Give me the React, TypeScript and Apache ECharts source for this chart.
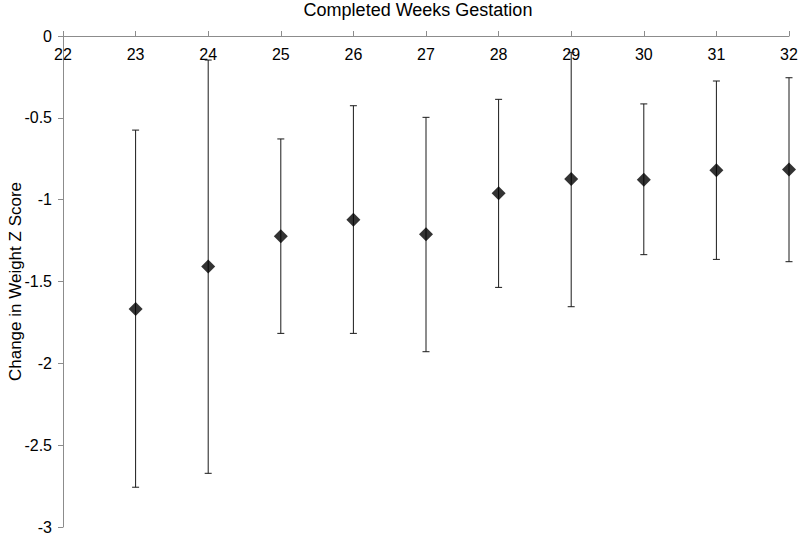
import React, { useEffect, useRef } from "react";
import * as echarts from "echarts";

const weeks = [23, 24, 25, 26, 27, 28, 29, 30, 31, 32];
const means = [-1.668, -1.409, -1.224, -1.122, -1.211, -0.961, -0.874, -0.878, -0.821, -0.815];
const upper = [-0.575, -0.147, -0.629, -0.426, -0.497, -0.387, -0.1, -0.415, -0.275, -0.255];
const lower = [-2.757, -2.672, -1.817, -1.817, -1.929, -1.536, -1.654, -1.336, -1.365, -1.379];

const xTitle = "Completed Weeks Gestation";
const yTitle = "Change in Weight Z Score";

const FONT = "'Liberation Sans', Arial, sans-serif";

export default function App() {
  const ref = useRef<HTMLDivElement>(null);
  useEffect(() => {
    if (!ref.current) return;
    const chart = echarts.init(ref.current, undefined, { renderer: "svg" });
    const errData = weeks.map((w, i) => [w, lower[i], upper[i]]);
    const pts = weeks.map((w, i) => [w, means[i]]);
    chart.setOption({
      animation: false,
      textStyle: { fontFamily: FONT },
      grid: { left: 63, right: 11, top: 36, bottom: 8, containLabel: false, outerBoundsMode: "none" },
      graphic: [
        {
          type: "text",
          x: 418,
          y: 10,
          style: {
            text: xTitle,
            align: "center",
            verticalAlign: "middle",
            textAlign: "center",
            textVerticalAlign: "middle",
            fontSize: 18,
            fontFamily: FONT,
            fill: "#000",
          },
        },
      ],
      xAxis: {
        type: "value",
        position: "top",
        min: 22,
        max: 32,
        interval: 1,
        axisLine: { show: true, onZero: false, lineStyle: { color: "#8c8c8c", width: 1 } },
        axisTick: { show: true, inside: false, length: 5, lineStyle: { color: "#8c8c8c" } },
        axisLabel: { inside: true, margin: 10, fontSize: 16, color: "#000", fontFamily: FONT },
        splitLine: { show: false },
      },
      yAxis: {
        type: "value",
        min: -3,
        max: 0,
        interval: 0.5,
        name: yTitle,
        nameLocation: "middle",
        nameGap: 39,
        nameMoveOverlap: false,
        nameTextStyle: { fontSize: 17, color: "#000", fontFamily: FONT },
        axisLine: { show: true, lineStyle: { color: "#8c8c8c", width: 1 } },
        axisTick: { show: true, length: 5, lineStyle: { color: "#8c8c8c" } },
        axisLabel: { margin: 11, fontSize: 16, color: "#000", fontFamily: FONT },
        splitLine: { show: false },
      },
      series: [
        {
          type: "custom",
          data: errData,
          encode: { x: 0, y: [1, 2] },
          renderItem: (params: any, api: any) => {
            const x = api.value(0);
            const lo = api.coord([x, api.value(1)]);
            const hi = api.coord([x, api.value(2)]);
            const hw = 3.5;
            const style = { stroke: "#1a1a1a", lineWidth: 1 };
            return {
              type: "group",
              children: [
                { type: "line", shape: { x1: lo[0], y1: lo[1], x2: hi[0], y2: hi[1] }, style },
                { type: "line", shape: { x1: lo[0] - hw, y1: lo[1], x2: lo[0] + hw, y2: lo[1] }, style },
                { type: "line", shape: { x1: hi[0] - hw, y1: hi[1], x2: hi[0] + hw, y2: hi[1] }, style },
              ],
            };
          },
          z: 2,
        },
        {
          type: "scatter",
          data: pts,
          symbol: "diamond",
          symbolSize: 14,
          itemStyle: { color: "#000" },
          z: 3,
        },
      ],
    });
    return () => chart.dispose();
  }, []);
  return <div ref={ref} style={{ width: 800, height: 535, position: "absolute", left: 0, top: 0 }} />;
}
